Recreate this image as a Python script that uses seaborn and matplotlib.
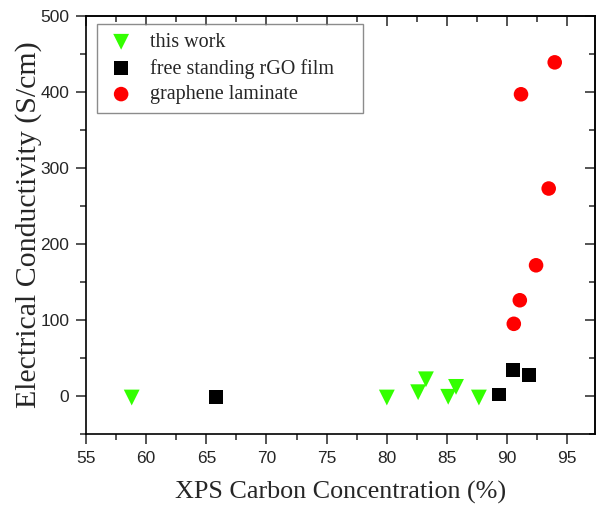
import matplotlib
matplotlib.use("Agg")
import matplotlib.pyplot as plt
import seaborn as sns
import pandas as pd
from matplotlib.ticker import MultipleLocator

# ---- data ----
this_work_x = [58.8, 80.0, 82.6, 83.25, 85.1, 85.75, 87.65]
this_work_y = [-2, -2, 5, 22, -1, 12, -2]

rgo_x = [65.8, 89.35, 90.5, 91.8]
rgo_y = [-1, 2, 34, 28]

lam_x = [90.55, 91.05, 92.4, 93.45, 91.15, 93.95]
lam_y = [95, 126, 172, 273, 397, 439]

labels = ["this work", "free standing rGO film", "graphene laminate"]

sns.set_style("ticks")
plt.rcParams["font.family"] = ["Liberation Serif", "DejaVu Serif"]

fig = plt.figure(figsize=(5.97, 5.09), dpi=100)
ax = fig.add_axes([0.144, 0.1473, 0.8527, 0.8213])

df1 = pd.DataFrame({"x": this_work_x, "y": this_work_y})
df2 = pd.DataFrame({"x": rgo_x, "y": rgo_y})
df3 = pd.DataFrame({"x": lam_x, "y": lam_y})

sns.scatterplot(data=df1, x="x", y="y", marker="v", s=130, color="#33ff00",
                edgecolor="none", linewidth=0, label=labels[0], ax=ax, zorder=3)
sns.scatterplot(data=df2, x="x", y="y", marker="s", s=100, color="black",
                edgecolor="none", linewidth=0, label=labels[1], ax=ax, zorder=3)
sns.scatterplot(data=df3, x="x", y="y", marker="o", s=110, color="#ff0000",
                edgecolor="none", linewidth=0, label=labels[2], ax=ax, zorder=3)

ax.set_xlim(55, 97.3)
ax.set_ylim(-50, 500)
ax.xaxis.set_major_locator(MultipleLocator(5))
ax.xaxis.set_minor_locator(MultipleLocator(2.5))
ax.yaxis.set_major_locator(MultipleLocator(100))
ax.yaxis.set_minor_locator(MultipleLocator(50))

ax.set_xlabel("XPS Carbon Concentration (%)", fontsize=18.8, labelpad=11)
ax.set_ylabel("Electrical Conductivity (S/cm)", fontsize=21.5, labelpad=-1)

for sp in ax.spines.values():
    sp.set_visible(True)
    sp.set_linewidth(1.2)
    sp.set_color("black")

ax.tick_params(which="major", direction="out", length=7, width=1.1, pad=5,
               labelsize=12.5, top=False, right=False)
ax.tick_params(which="minor", direction="out", length=4, width=1.1,
               top=False, right=False)
for lab in ax.get_xticklabels() + ax.get_yticklabels():
    lab.set_fontfamily(["Liberation Sans", "DejaVu Sans"])

# mirrored inward ticks on top and right
secx = ax.secondary_xaxis("top")
secx.xaxis.set_major_locator(MultipleLocator(5))
secx.xaxis.set_minor_locator(MultipleLocator(2.5))
secx.tick_params(which="major", direction="in", length=7, width=1.1, labeltop=False)
secx.tick_params(which="minor", direction="in", length=4, width=1.1)
secx.spines["top"].set_linewidth(1.2)
secy = ax.secondary_yaxis("right")
secy.yaxis.set_major_locator(MultipleLocator(100))
secy.yaxis.set_minor_locator(MultipleLocator(50))
secy.tick_params(which="major", direction="in", length=7, width=1.1, labelright=False)
secy.tick_params(which="minor", direction="in", length=4, width=1.1)
secy.spines["right"].set_linewidth(1.2)

leg = ax.legend(loc="upper left", bbox_to_anchor=(0.0216, 0.5, 0.5226, 0.481),
                mode="expand", fontsize=14.5,
                frameon=True, fancybox=False, edgecolor="#707070",
                borderpad=0.45, handletextpad=0.7, labelspacing=0.33,
                borderaxespad=0, handlelength=1.5)
leg.get_frame().set_linewidth(1.0)

fig.savefig("out.png", dpi=100)
